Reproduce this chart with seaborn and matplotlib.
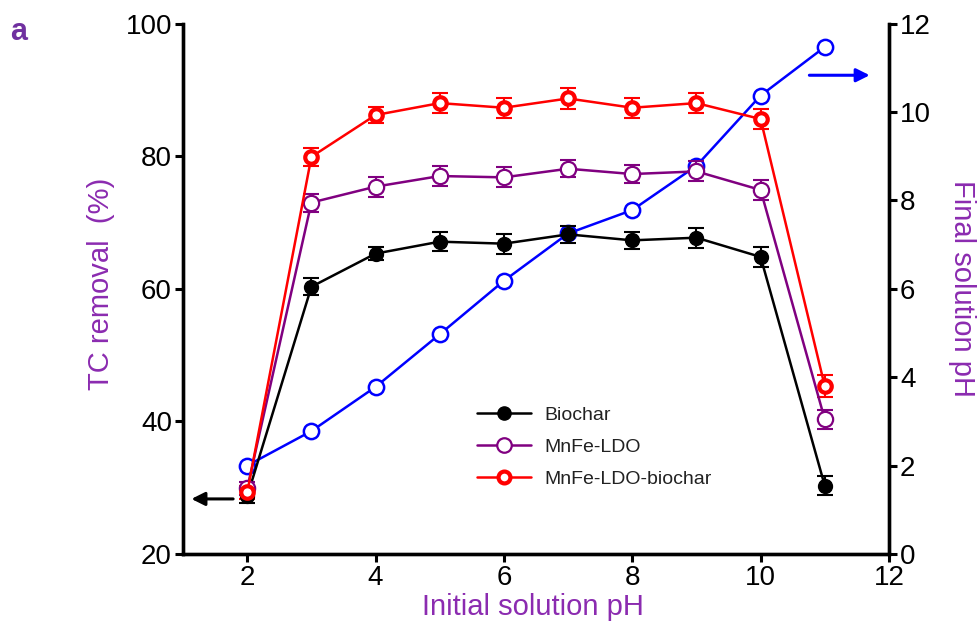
import matplotlib
matplotlib.use("Agg")
import matplotlib.pyplot as plt
import seaborn as sns
import pandas as pd
import numpy as np

sns.set_theme(style="white")
plt.rcParams['font.family'] = ['Liberation Sans', 'DejaVu Sans']

initial_ph = [2, 3, 4, 5, 6, 7, 8, 9, 10, 11]
biochar = [28.7, 60.3, 65.3, 67.1, 66.8, 68.2, 67.3, 67.7, 64.8, 30.3]
biochar_err = [1.0, 1.3, 0.95, 1.4, 1.5, 1.3, 1.3, 1.5, 1.5, 1.4]
ldo = [29.9, 73.0, 75.4, 77.0, 76.8, 78.1, 77.3, 77.7, 74.9, 40.3]
ldo_err = [1.0, 1.35, 1.5, 1.45, 1.5, 1.25, 1.3, 1.5, 1.45, 1.45]
ldo_bc = [29.3, 79.9, 86.2, 88.0, 87.3, 88.7, 87.3, 88.0, 85.6, 45.3]
ldo_bc_err = [1.0, 1.4, 1.2, 1.5, 1.5, 1.6, 1.5, 1.5, 1.45, 1.7]
final_ph = [2.0, 2.78, 3.78, 4.97, 6.18, 7.25, 7.78, 8.78, 10.37, 11.47]

labels = ["Biochar", "MnFe-LDO", "MnFe-LDO-biochar"]
purple_line = "#800080"
label_purple = "#8B2BB0"

df = pd.DataFrame({"pH": initial_ph, "Biochar": biochar, "MnFe-LDO": ldo,
                   "MnFe-LDO-biochar": ldo_bc, "final": final_ph})

fig = plt.figure(figsize=(9.79, 6.36), dpi=100)
ax = fig.add_axes([0.187, 0.129, 0.721, 0.834])
ax2 = ax.twinx()

# blue final pH (right axis)
sns.lineplot(data=df, x="pH", y="final", ax=ax2, color="#0000FF", linewidth=1.8,
             marker="o", markersize=11, markerfacecolor="white",
             markeredgecolor="#0000FF", markeredgewidth=1.8, zorder=3)

styles = [
    dict(color="black", mfc="black", mec="black", ms=10, mew=1.0),
    dict(color=purple_line, mfc="white", mec=purple_line, ms=11, mew=1.6),
    dict(color="#FF0000", mfc="white", mec="#FF0000", ms=9, mew=3.0),
]
errs = [biochar_err, ldo_err, ldo_bc_err]
for lab, st, er in zip(labels, styles, errs):
    ax.errorbar(df["pH"], df[lab], yerr=er, fmt="none", ecolor=st["color"],
                elinewidth=1.5, capsize=5.5, capthick=1.5, zorder=4)
    sns.lineplot(data=df, x="pH", y=lab, ax=ax, color=st["color"], linewidth=1.8,
                 marker="o", markersize=st["ms"], markerfacecolor=st["mfc"],
                 markeredgecolor=st["mec"], markeredgewidth=st["mew"], label=lab,
                 zorder=5)

ax.set_zorder(ax2.get_zorder() + 1)
ax.patch.set_visible(False)

ax.set_xlim(1, 12)
ax.set_ylim(20, 100)
ax2.set_ylim(0, 12)
ax.set_xticks([2, 4, 6, 8, 10, 12])
ax.set_yticks([20, 40, 60, 80, 100])
ax2.set_yticks([0, 2, 4, 6, 8, 10, 12])

for a in (ax, ax2):
    for s in a.spines.values():
        s.set_linewidth(2.4)
        s.set_color("black")
    a.spines["top"].set_visible(False)
    a.tick_params(axis="both", direction="out", length=6, width=2.2,
                  labelsize=20, colors="black", pad=2)
ax.tick_params(axis="y", left=True, right=False)
ax.tick_params(axis="x", bottom=True)
ax2.tick_params(axis="y", right=True, left=False)

ax.set_xlabel("Initial solution pH", color=label_purple, fontsize=21)
ax.set_ylabel("TC removal  (%)", color=label_purple, fontsize=21)
ax2.set_ylabel("Final solution pH", color=label_purple, fontsize=21, rotation=270)
ax.xaxis.set_label_coords(0.495, -0.1)
ax.yaxis.set_label_coords(-0.116, 0.51)
ax2.yaxis.set_label_coords(1.103, 0.501)
for lbl in (ax.xaxis.label, ax.yaxis.label, ax2.yaxis.label):
    lbl.set_va("center")
    lbl.set_ha("center")

# arrows
ax.annotate("", xy=(1.13, 28.3), xytext=(1.78, 28.3),
            arrowprops=dict(arrowstyle="-|>", color="black", lw=2.2,
                            mutation_scale=20, shrinkA=0, shrinkB=0))
ax2.annotate("", xy=(11.7, 10.83), xytext=(10.76, 10.83),
             arrowprops=dict(arrowstyle="-|>", color="#0000FF", lw=2.2,
                             mutation_scale=20, shrinkA=0, shrinkB=0))

leg = ax.legend(loc="upper left", bbox_to_anchor=(0.416, 0.279), frameon=False,
                fontsize=14, handlelength=2.8, labelspacing=0.75, handletextpad=0.7,
                borderpad=0, borderaxespad=0, markerscale=0.95)
for t in leg.get_texts():
    t.set_color("#222222")

fig.text(0.010, 0.937, "a", color="#7030A0", fontsize=22, fontweight="bold")

fig.savefig("out.png", dpi=100)
